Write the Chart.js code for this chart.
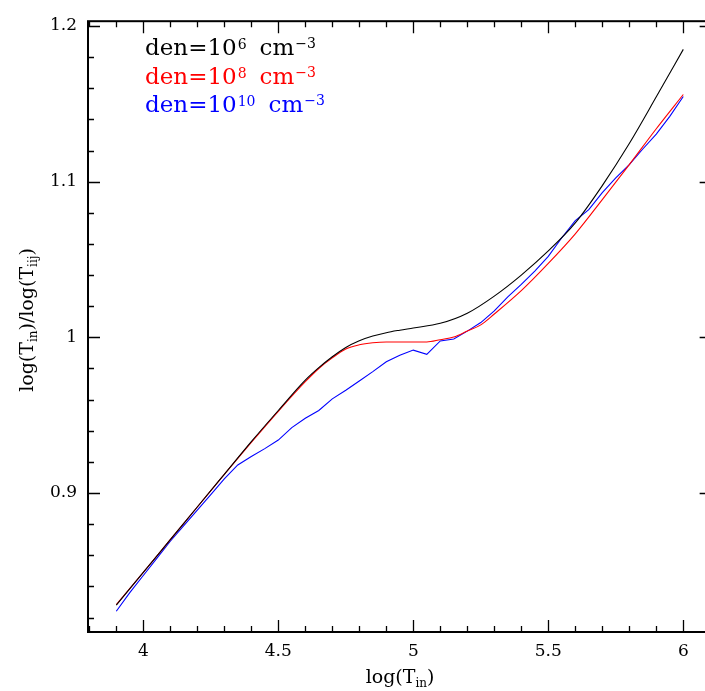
<!DOCTYPE html>
<html>
<head>
<meta charset="utf-8">
<script src="https://cdn.jsdelivr.net/npm/chart.js@4/dist/chart.umd.min.js"></script>
<style>
html,body{margin:0;padding:0;overflow:hidden;background:#fff;}
#wrap{width:705px;height:691px;}
</style>
</head>
<body>
<div id="wrap"><canvas id="c" width="705" height="691"></canvas></div>
<script>
// ---- data ----
const blackX = [3.9, 4.0, 4.1, 4.2, 4.3, 4.4, 4.5, 4.6, 4.65, 4.7, 4.75, 4.8, 4.85, 4.9, 4.95, 5.0, 5.1, 5.2, 5.3, 5.4, 5.5, 5.6, 5.7, 5.8, 5.9, 6.0];
const blackY = [0.828, 0.849, 0.870, 0.891, 0.912, 0.933, 0.953, 0.9725, 0.9805, 0.9875, 0.9935, 0.9978, 1.0008, 1.003, 1.0046, 1.006, 1.009, 1.0155, 1.0265, 1.040, 1.0555, 1.0735, 1.0975, 1.1245, 1.1545, 1.185];

const redX = [3.9, 4.0, 4.1, 4.2, 4.3, 4.4, 4.5, 4.6, 4.65, 4.7, 4.75, 4.8, 4.85, 4.9, 5.0, 5.05, 5.1, 5.15, 5.2, 5.25, 5.3, 5.4, 5.5, 5.6, 5.7, 5.8, 5.9, 6.0];
const redY = [0.8283, 0.849, 0.870, 0.891, 0.912, 0.9325, 0.9525, 0.9715, 0.980, 0.9868, 0.9925, 0.9952, 0.9965, 0.997, 0.997, 0.997, 0.9985, 1.0002, 1.004, 1.008, 1.015, 1.030, 1.0475, 1.0665, 1.0885, 1.111, 1.134, 1.156];

const blueX = [3.9, 3.95, 4.0, 4.05, 4.1, 4.15, 4.2, 4.25, 4.3, 4.35, 4.4, 4.45, 4.5, 4.55, 4.6, 4.65, 4.7, 4.75, 4.8, 4.85, 4.9, 4.95, 5.0, 5.05, 5.1, 5.15, 5.2, 5.25, 5.3, 5.35, 5.4, 5.45, 5.5, 5.55, 5.6, 5.65, 5.7, 5.75, 5.8, 5.85, 5.9, 5.95, 6.0];
const blueY = [0.824, 0.836, 0.847, 0.858, 0.869, 0.879, 0.889, 0.899, 0.909, 0.918, 0.9235, 0.9285, 0.934, 0.942, 0.948, 0.953, 0.9605, 0.966, 0.972, 0.978, 0.9843, 0.9885, 0.9918, 0.9891, 0.9977, 0.9989, 1.004, 1.0095, 1.017, 1.026, 1.034, 1.0426, 1.052, 1.064, 1.075, 1.082, 1.093, 1.1025, 1.111, 1.121, 1.1306, 1.142, 1.1547];

const xMajorTicks = [4, 4.5, 5, 5.5, 6];
const xTickLabels = ['4', '4.5', '5', '5.5', '6'];
const xMinorTicks = [3.8, 3.9, 4.0, 4.1, 4.2, 4.3, 4.4, 4.5, 4.6, 4.7, 4.8, 4.9, 5.0, 5.1, 5.2, 5.3, 5.4, 5.5, 5.6, 5.7, 5.8, 5.9, 6.0, 6.1];
const yMajorTicks = [0.9, 1.0, 1.1, 1.2];
const yTickLabels = ['0.9', '1', '1.1', '1.2'];
const yMinorTicks = [0.82, 0.84, 0.86, 0.88, 0.9, 0.92, 0.94, 0.96, 0.98, 1.0, 1.02, 1.04, 1.06, 1.08, 1.1, 1.12, 1.14, 1.16, 1.18, 1.2];

// the plot box of the original extends a little past the right edge of the picture
const frameXMax = 6.105;

const seriesLabels = [
  {base: 'den=10', sup: '6', color: '#000000'},
  {base: 'den=10', sup: '8', color: '#ff0000'},
  {base: 'den=10', sup: '10', color: '#0000ff'}
];

const FONT = "'DejaVu Serif', serif";

function pts(xs, ys){ return xs.map((x,i)=>({x:x, y:ys[i]})); }

function isMajor(v, majors){ return majors.some(m => Math.abs(m - v) < 1e-9); }

const framePlugin = {
  id: 'frame',
  afterDatasetsDraw(chart){
    const {ctx, chartArea:a, scales} = chart;
    const xs = scales.x, ys = scales.y;
    const right = xs.getPixelForValue(frameXMax);
    ctx.save();
    ctx.strokeStyle = '#000';
    ctx.lineWidth = 1.3;
    ctx.beginPath();
    xMinorTicks.forEach(v => {
      const p = Math.round(xs.getPixelForValue(v)) + 0.5;
      const len = isMajor(v, xMajorTicks) ? 12 : 6;
      ctx.moveTo(p, a.bottom); ctx.lineTo(p, a.bottom - len);
      ctx.moveTo(p, a.top); ctx.lineTo(p, a.top + len);
    });
    yMinorTicks.forEach(v => {
      const p = Math.round(ys.getPixelForValue(v)) + 0.5;
      const len = isMajor(v, yMajorTicks) ? 12 : 6;
      ctx.moveTo(a.left, p); ctx.lineTo(a.left + len, p);
      ctx.moveTo(right, p); ctx.lineTo(right - len, p);
    });
    ctx.stroke();
    ctx.lineWidth = 2;
    ctx.strokeRect(a.left, a.top, right - a.left, a.bottom - a.top);
    ctx.restore();
  },
  afterDraw(chart){
    const ctx = chart.ctx;
    ctx.save();
    ctx.textBaseline = 'alphabetic';
    // legend text
    const lx = 145, ly0 = 55, dy = 28.5;
    seriesLabels.forEach((s, i) => {
      const y = ly0 + i * dy;
      ctx.fillStyle = s.color;
      ctx.font = '23px ' + FONT;
      ctx.textAlign = 'left';
      ctx.fillText(s.base, lx, y);
      let x = lx + ctx.measureText(s.base).width + 1;
      ctx.font = '14px ' + FONT;
      ctx.fillText(s.sup, x, y - 6);
      x += ctx.measureText(s.sup).width + 13;
      ctx.font = '23px ' + FONT;
      ctx.fillText('cm', x, y);
      x += ctx.measureText('cm').width + 1;
      ctx.font = '14px ' + FONT;
      ctx.fillText('\u22123', x, y - 7);
    });
    ctx.fillStyle = '#000';
    // x title: log(T_in)
    const xparts = [
      {t:'log(T', s:19, d:0},
      {t:'in', s:12, d:4},
      {t:')', s:19, d:0}
    ];
    drawParts(ctx, xparts, 400, 683);
    // y title
    const yparts = [
      {t:'log(T', s:19, d:0},
      {t:'in', s:12, d:4},
      {t:')/log(T', s:19, d:0},
      {t:'iij', s:12, d:4},
      {t:')', s:19, d:0}
    ];
    ctx.save();
    ctx.translate(33, 320);
    ctx.rotate(-Math.PI/2);
    drawParts(ctx, yparts, 0, 0);
    ctx.restore();
    ctx.restore();
  }
};

function drawParts(ctx, parts, cx, by){
  let w = 0;
  parts.forEach(p => { ctx.font = p.s + 'px ' + FONT; w += ctx.measureText(p.t).width; });
  let x = cx - w/2;
  ctx.textAlign = 'left';
  parts.forEach(p => {
    ctx.font = p.s + 'px ' + FONT;
    ctx.fillText(p.t, x, by + p.d);
    x += ctx.measureText(p.t).width;
  });
}

new Chart(document.getElementById('c'), {
  type: 'line',
  data: {
    datasets: [
      {label: 'den=1e6', data: pts(blackX, blackY), borderColor: '#000000', borderWidth: 1.1, pointRadius: 0, cubicInterpolationMode: 'monotone', fill: false},
      {label: 'den=1e8', data: pts(redX, redY), borderColor: '#ff0000', borderWidth: 1.1, pointRadius: 0, cubicInterpolationMode: 'monotone', fill: false},
      {label: 'den=1e10', data: pts(blueX, blueY), borderColor: '#0000ff', borderWidth: 1.1, pointRadius: 0, tension: 0, fill: false}
    ]
  },
  options: {
    responsive: false,
    animation: false,
    events: [],
    layout: {padding: {top: 8, right: 0, left: 0, bottom: 0}},
    plugins: {legend: {display: false}, tooltip: {enabled: false}, title: {display: false}},
    scales: {
      x: {
        type: 'linear', min: 3.7952, max: 6.0804,
        afterFit(s){ s.height = 59; },
        afterBuildTicks(s){ s.ticks = xMajorTicks.map(v => ({value: v})); },
        grid: {display: false, drawTicks: false},
        border: {display: false},
        ticks: {
          autoSkip: false, maxRotation: 0, padding: 9, color: '#000',
          font: {family: FONT, size: 17},
          callback: (v, i) => xTickLabels[i]
        }
      },
      y: {
        type: 'linear', min: 0.8107, max: 1.2031,
        afterFit(s){ s.width = 88; },
        afterBuildTicks(s){ s.ticks = yMajorTicks.map(v => ({value: v})); },
        grid: {display: false, drawTicks: false},
        border: {display: false},
        ticks: {
          autoSkip: false, padding: 11, color: '#000',
          font: {family: FONT, size: 17},
          callback: (v, i) => yTickLabels[i]
        }
      }
    }
  },
  plugins: [framePlugin]
});
</script>
</body>
</html>
